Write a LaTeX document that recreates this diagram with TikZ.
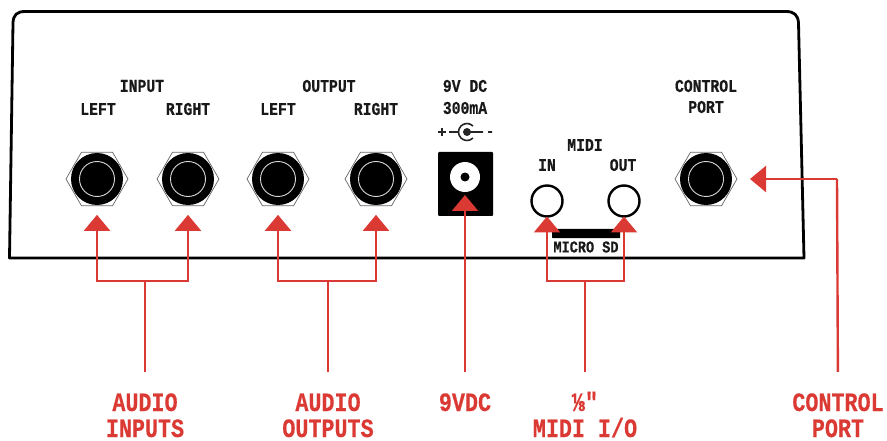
\documentclass[tikz,border=0pt]{standalone}
\usepackage{fontspec}
\setmonofont[FakeStretch=0.82,BoldFeatures={FakeStretch=0.82,FakeBold=0.4}]{Liberation Mono}
\usepackage{xcolor}
\usetikzlibrary{arrows.meta,shapes.geometric}
\definecolor{sigred}{HTML}{DB3A34}
\tikzset{
panellabel/.style={font=\ttfamily\bfseries\fontsize{18}{18}\selectfont,inner sep=0pt,text=black!90},
sdlabel/.style={font=\ttfamily\bfseries\fontsize{16.5}{16.5}\selectfont,inner sep=0pt,text=black!90},
callout/.style={font=\ttfamily\bfseries\fontsize{26.5}{26.5}\selectfont,inner sep=0pt,text=sigred,anchor=base,text height=18pt,text depth=0pt},
jacknut/.style={regular polygon,regular polygon sides=6,shape border rotate=0,minimum size=62pt,inner sep=0pt,outer sep=0pt,draw=black!60,line width=0.7pt,fill=white},
jackbody/.style={circle,minimum size=52pt,inner sep=0pt,fill=black},
jackring/.style={circle,minimum size=35pt,inner sep=0pt,draw=white!85!black,line width=0.9pt},
midijack/.style={circle,minimum size=31pt,inner sep=0pt,outer sep=0pt,draw=black,line width=2.4pt,fill=white},
sigline/.style={sigred,line width=2.4pt},
sigarrow/.style={sigred,line width=2.4pt,-{Triangle[length=16pt,width=26pt]}}
}
\begin{document}
\begin{tikzpicture}[x=1pt,y=-1pt]
\useasboundingbox (0,0) rectangle (887,441);
\draw[line width=2.8pt,line join=round] (9.5,258) -- (13,23) .. controls (13.2,15) and (17,11.5) .. (25,11.5) -- (786,11.5) .. controls (794,11.5) and (798,15) .. (798.5,23) -- (804,258) -- cycle;

\node[panellabel] (inputlbl) at (142,86) {INPUT};
\node[panellabel] (inleftlbl) at (98,109) {LEFT};
\node[panellabel] (inrightlbl) at (188,109) {RIGHT};
\node[panellabel] (outputlbl) at (329,86) {OUTPUT};
\node[panellabel] (outleftlbl) at (278,109) {LEFT};
\node[panellabel] (outrightlbl) at (376,109) {RIGHT};
\node[panellabel] (dclbl) at (465,86) {9V DC};
\node[panellabel] (malbl) at (465,108) {300mA};
\node[panellabel] (midilbl) at (585,145) {MIDI};
\node[panellabel] (midiinlbl) at (547,165) {IN};
\node[panellabel] (midioutlbl) at (623,165) {OUT};
\node[panellabel] (ctllbl) at (706,86) {CONTROL};
\node[panellabel] (portlbl) at (706,107) {PORT};
\node[sdlabel] (sdlbl) at (586,247) {MICRO SD};

\node[jacknut] (inleft) at (97,179) {};
\node[jackbody] at (inleft) {};
\node[jackring] at (inleft) {};
\node[jacknut] (inright) at (188,179) {};
\node[jackbody] at (inright) {};
\node[jackring] at (inright) {};
\node[jacknut] (outleft) at (278,179) {};
\node[jackbody] at (outleft) {};
\node[jackring] at (outleft) {};
\node[jacknut] (outright) at (376,179) {};
\node[jackbody] at (outright) {};
\node[jackring] at (outright) {};
\node[jacknut] (ctl) at (706,179) {};
\node[jackbody] at (ctl) {};
\node[jackring] at (ctl) {};

\fill[rounded corners=1pt] (438,152) rectangle (493,216);
\node[circle,fill=white,minimum size=30pt,inner sep=0pt,outer sep=0pt] (dc) at (465,177) {};
\fill (dc) circle (4.5pt);

\draw[line width=1.3pt,black!85] (442,128) -- (442,136) (438,132) -- (446,132) (449,132) -- (458,132);
\draw[line width=1.6pt,black!85] (473,126) arc (45:315:8.5pt) (467,132) -- (483,132) (488,132) -- (492,132);
\fill[black!85] (467,132) circle (4pt);

\node[midijack] (midiin) at (547,201) {};
\node[midijack] (midiout) at (624,201) {};
\fill[rounded corners=0.5pt] (552,229) rectangle (620,238);

\coordinate (inputjoin) at (145,281);
\coordinate (outputjoin) at (328,281);
\coordinate (midijoin) at (585,281);
\coordinate (ctlturn) at (837,179);

\node[callout] (audioin) at (145,411) {AUDIO};
\node[callout] (inputs) at (145,437) {INPUTS};
\node[callout] (audioout) at (328,411) {AUDIO};
\node[callout] (outputs) at (328,437) {OUTPUTS};
\node[callout] (ninevdc) at (465,411) {9VDC};
\node[callout] (eighth) at (585,411) {⅛"};
\node[callout] (midiio) at (585,437) {MIDI I/O};
\node[callout] (ctlout) at (838,411) {CONTROL};
\node[callout] (portout) at (838,437) {PORT};

\draw[sigline,shorten <=21pt] (audioin.north) -- (inputjoin);
\draw[sigarrow,shorten >=9pt] (inputjoin) -| (inleft);
\draw[sigarrow,shorten >=9pt] (inputjoin) -| (inright);
\draw[sigline,shorten <=21pt] (audioout.north) -- (outputjoin);
\draw[sigarrow,shorten >=9pt] (outputjoin) -| (outleft);
\draw[sigarrow,shorten >=9pt] (outputjoin) -| (outright);
\draw[sigarrow,shorten <=21pt,shorten >=3pt] (ninevdc.north) -- (dc);
\draw[sigline,shorten <=21pt] (eighth.north) -- (midijoin);
\draw[sigarrow] (midijoin) -| (midiin);
\draw[sigarrow] (midijoin) -| (midiout);
\draw[sigline,shorten <=21pt] (ctlout.north) -- (ctlturn);
\draw[sigarrow,shorten >=13pt] (ctlturn) -- (ctl);
\end{tikzpicture}
\end{document}
